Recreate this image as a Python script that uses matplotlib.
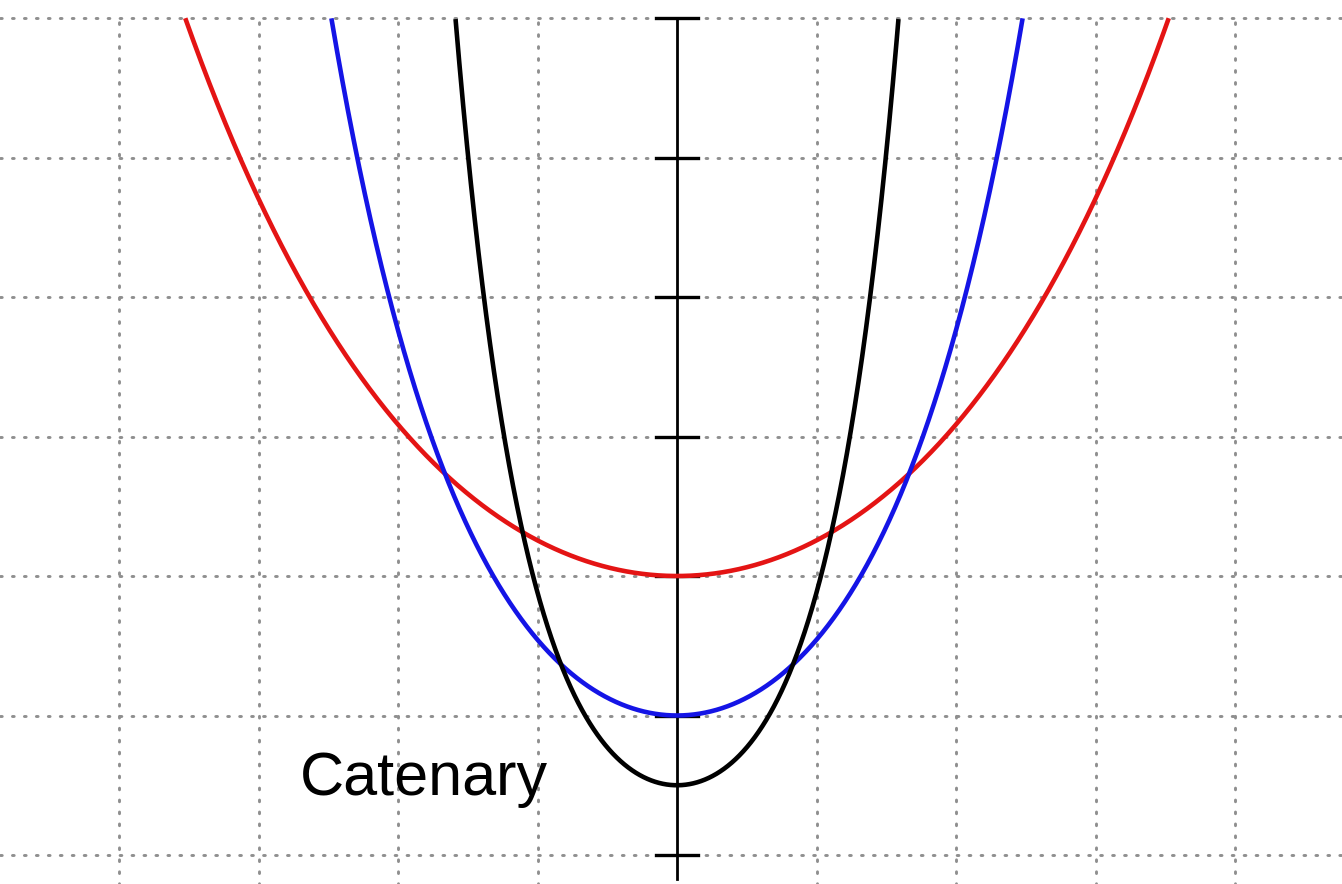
import numpy as np
import matplotlib
matplotlib.use('Agg')
import matplotlib.pyplot as plt

# catenary parameters y = a*cosh(x/a)
A_VALUES = [2.0, 1.0, 0.5]
COLORS = ['#e41414', '#1414e6', '#000000']
GRID_X = [-4, -3, -2, -1, 1, 2, 3, 4]
GRID_Y = [0, 1, 2, 3, 4, 5, 6]
Y_TICKS = [0, 1, 2, 3, 4, 5, 6]
LABEL = "Catenary"

UNIT = 139.5  # pixels per unit
fig = plt.figure(figsize=(13.42, 8.84), dpi=100)
ax = fig.add_axes([0, 0, 1, 1])
ax.set_xlim(-677 / UNIT, (1342 - 677) / UNIT)
ax.set_ylim(-(884 - 855) / UNIT, 855 / UNIT)
ax.axis('off')

grid_style = dict(color='#8f8f8f', lw=2.1, linestyle=(0, (0.6, 3.5)),
                  dash_capstyle='round', zorder=1)
for gy in GRID_Y:
    ax.axhline(gy, **grid_style)
for gx in GRID_X:
    ax.plot([gx, gx], [-1, 6], **grid_style)

# y axis with ticks
ax.plot([0, 0], [-0.17, 6], color='black', lw=2.0, zorder=3)
for t in Y_TICKS:
    ax.plot([-0.15, 0.15], [t, t], color='black', lw=2.4, zorder=3)

x = np.linspace(-5, 5, 4001)
for a, c in zip(A_VALUES, COLORS):
    y = a * np.cosh(x / a)
    y = np.where(y <= 6, y, np.nan)
    ax.plot(x, y, color=c, lw=3.3, zorder=4, solid_capstyle='butt')

ax.text(-2.70, 0.43, LABEL, fontsize=44, family='Liberation Sans',
        ha='left', va='baseline', zorder=5)

fig.savefig('out.png', dpi=100)
